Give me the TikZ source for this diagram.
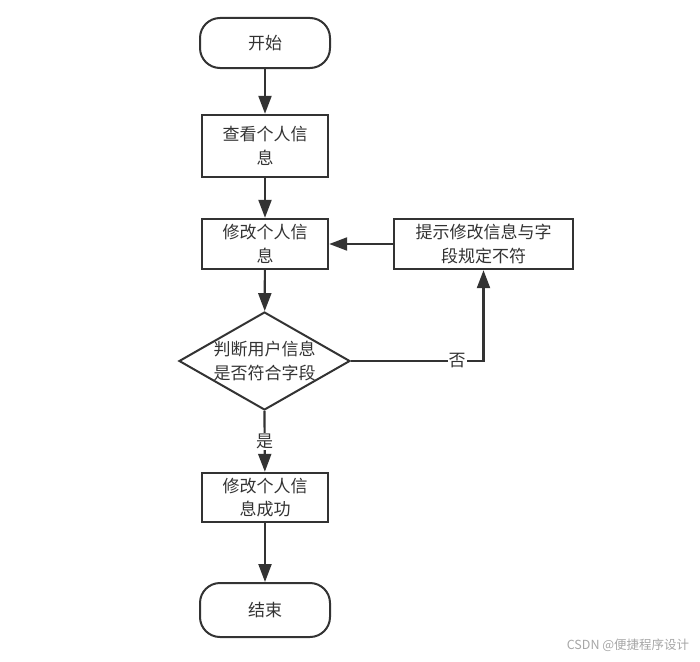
\documentclass[tikz,border=0pt]{standalone}
\usepackage{fontspec}
\setmainfont{Noto Sans CJK SC}
\usetikzlibrary{shapes.geometric,arrows.meta}
\definecolor{ln}{HTML}{333333}
\begin{document}
\begin{tikzpicture}[x=1pt,y=-1pt,
 every node/.style={font=\fontsize{17}{23.5}\selectfont, text=ln},
 term/.style={draw=ln, line width=2pt, rounded corners=20pt, minimum width=130pt, minimum height=50pt, fill=white},
 proc/.style={draw=ln, line width=2.4pt, minimum width=126pt, align=center, inner sep=0pt, fill=white},
 dec/.style={draw=ln, line width=2pt, diamond, minimum width=171pt, minimum height=98pt, inner sep=0pt},
 arr/.style={draw=ln, line width=2.2pt, -{Triangle[length=18pt,width=13pt]}},
 lab/.style={fill=white, inner sep=1pt}
]
\useasboundingbox (0,0) rectangle (700,661);
\node[term] (start) at (265,43) {开始};
\node[proc, minimum height=62pt] (view) at (265,146) {查看个人信\\息};
\node[proc, minimum height=50pt] (edit) at (265,244) {修改个人信\\息};
\node[proc, minimum width=179pt, minimum height=50pt] (warn) at (483.5,244) {提示修改信息与字\\段规定不符};
\node[dec] (check) at (264.5,361) {};
\node[align=center] (checkt) at (check.center) {判断用户信息\\是否符合字段};
\node[proc, minimum height=49pt] (ok) at (265,497.5) {修改个人信\\息成功};
\node[term, minimum height=54pt] (end) at (265,610) {结束};
\draw[arr] (start) -- (view);
\draw[arr] (view) -- (edit);
\draw[arr] (edit) -- (check);
\draw[arr] (warn) -- (edit);
\draw[arr] (check.east) -| node[lab, pos=0.4]{否} (warn.south);
\draw[arr] (check.south) -- node[lab]{是} (ok);
\draw[arr] (ok) -- (end);
\node[text=gray!70, font=\fontsize{12.5}{14}\selectfont] (wm) at (628,645) {CSDN @便捷程序设计};
\end{tikzpicture}
\end{document}
